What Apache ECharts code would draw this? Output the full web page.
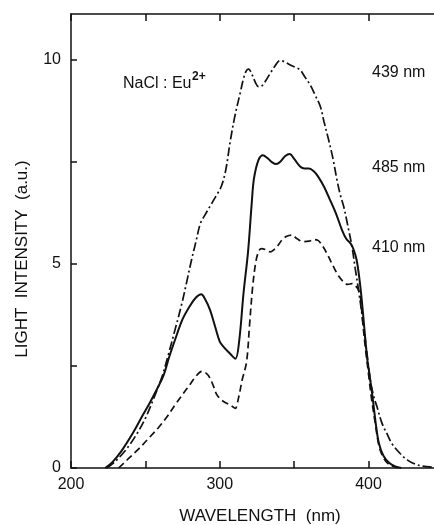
<!DOCTYPE html>
<html>
<head>
<meta charset="utf-8">
<script src="https://cdn.jsdelivr.net/npm/echarts@6/dist/echarts.min.js"></script>
<style>
html,body{margin:0;padding:0;background:#fff;}
#c{width:434px;height:525px;}
</style>
</head>
<body>
<div id="c"></div>
<script>
// Tick values
const xTicks = [200, 250, 300, 350, 400];
const xLabels = [200, 300, 400];
const yTicks = [0, 2.5, 5, 7.5, 10];
const yLabels = [0, 5, 10];

// Emission at 485 nm (solid)
const s485 = [[223,0],[228,0.15],[234,0.42],[242,0.88],[248,1.28],[253,1.6],[258,1.95],[262,2.25],[266,2.72],[270,3.15],[275,3.65],[280,3.98],[284,4.18],[287.5,4.26],[290,4.15],[293.5,3.87],[297,3.45],[300,3.1],[303,2.95],[307,2.8],[310.5,2.68],[313,3.1],[316,4.3],[319,5.3],[321.5,6.5],[323,7.1],[326,7.55],[329,7.67],[332,7.6],[335,7.5],[338,7.45],[341,7.52],[344,7.65],[347,7.7],[350,7.58],[354,7.39],[357,7.34],[360,7.34],[363,7.28],[366,7.15],[370,6.9],[374,6.58],[378,6.25],[382,5.85],[385,5.62],[388,5.5],[390,5.35],[392,5.1],[394,4.6],[395.5,4.1],[397,3.5],[399,2.72],[401,2.2],[403,1.65],[405,1.05],[407,0.6],[410,0.3],[414,0.12],[418,0.04],[422,0]];

// Emission at 439 nm (dash-dot)
const s439 = [[224,0],[230,0.17],[237,0.45],[244,0.82],[250,1.22],[255.5,1.7],[261,2.22],[265,2.72],[270,3.4],[274.5,4.03],[278,4.6],[281,5.1],[284,5.55],[287,6.0],[290,6.2],[294,6.45],[298,6.7],[301,6.9],[304,7.3],[307,8.0],[310,8.6],[313.7,9.19],[316,9.55],[318,9.75],[319.5,9.78],[321,9.7],[324,9.45],[326,9.35],[328.3,9.37],[331,9.5],[334,9.68],[337,9.85],[340.6,9.99],[344,9.95],[347.4,9.88],[351,9.82],[354,9.76],[357,9.6],[360.8,9.39],[364,9.15],[367.6,8.86],[370,8.5],[373.2,8.04],[376,7.6],[378.8,7.06],[381,6.7],[383.3,6.41],[386,5.95],[388.9,5.42],[391,4.9],[393.3,4.36],[396.7,3.46],[399,2.8],[401.2,2.15],[403.5,1.75],[405.7,1.5],[409,1.1],[412.4,0.84],[416,0.58],[421.4,0.35],[426,0.2],[430.4,0.11],[436,0.05],[444,0.02]];

// Emission at 410 nm (dashed)
const s410 = [[232,0],[237.5,0.19],[245,0.45],[253,0.76],[259,1.0],[264.4,1.25],[270,1.55],[275.6,1.83],[280,2.05],[284,2.25],[288,2.37],[291,2.32],[293.5,2.2],[295.8,2.0],[298,1.8],[301.4,1.66],[305,1.58],[308,1.52],[310.4,1.46],[312.5,1.7],[315,2.15],[318,2.6],[320,3.5],[322,4.4],[324,5.0],[326,5.3],[328,5.38],[331,5.35],[334,5.3],[336,5.34],[339,5.45],[342,5.6],[345,5.68],[348.5,5.71],[352,5.62],[356,5.55],[360,5.56],[363,5.6],[366,5.58],[369,5.45],[372,5.26],[376.5,4.93],[380,4.7],[383.3,4.56],[386,4.5],[389,4.52],[391,4.47],[393,4.38],[394.5,4.2],[396,3.6],[398,2.9],[400,2.3],[402,1.7],[404.5,1.1],[407,0.55],[410,0.25],[414,0.08],[420,0]];

const FONT = '"Liberation Sans", Arial, sans-serif';
const INK = '#111';

const chart = echarts.init(document.getElementById('c'), null, {renderer: 'canvas'});
const baseLine = {show: true, lineStyle: {color: INK, width: 1.5}};
chart.setOption({
  animation: false,
  backgroundColor: '#fff',
  grid: {left: 71, top: 14, right: 0, bottom: 57, containLabel: false},
  xAxis: [{
    type: 'value', min: 200, max: 444, position: 'bottom',
    axisLine: baseLine,
    axisTick: {show: true, inside: true, length: 7, customValues: xTicks, lineStyle: {color: INK, width: 1.5}},
    axisLabel: {show: true, customValues: xLabels, margin: 9, fontSize: 16, color: INK, fontFamily: FONT},
    splitLine: {show: false}
  }, {
    type: 'value', min: 200, max: 444, position: 'top',
    axisLine: baseLine,
    axisTick: {show: true, inside: true, length: 7, customValues: xTicks, lineStyle: {color: INK, width: 1.5}},
    axisLabel: {show: false},
    splitLine: {show: false}
  }],
  yAxis: {
    type: 'value', min: 0, max: 11.13,
    axisLine: baseLine,
    axisTick: {show: true, inside: true, length: 6, customValues: yTicks, lineStyle: {color: INK, width: 1.5}},
    axisLabel: {show: true, customValues: yLabels, margin: 10, fontSize: 16, color: INK, fontFamily: FONT},
    splitLine: {show: false}
  },
  series: [{
    name: '485 nm', type: 'line', data: s485, showSymbol: false, smooth: 0.35,
    lineStyle: {color: INK, width: 2, type: 'solid'}
  }, {
    name: '439 nm', type: 'line', data: s439, showSymbol: false, smooth: 0.35,
    lineStyle: {color: INK, width: 1.7, type: [9, 3, 2, 3]}
  }, {
    name: '410 nm', type: 'line', data: s410, showSymbol: false, smooth: 0.35,
    lineStyle: {color: INK, width: 1.7, type: [7, 4]}
  }],
  graphic: [
    {type: 'text', x: 372, y: 72.5, style: {text: '439 nm', font: '16px ' + FONT, fill: INK, textVerticalAlign: 'middle'}},
    {type: 'text', x: 372, y: 167.5, style: {text: '485 nm', font: '16px ' + FONT, fill: INK, textVerticalAlign: 'middle'}},
    {type: 'text', x: 372, y: 248, style: {text: '410 nm', font: '16px ' + FONT, fill: INK, textVerticalAlign: 'middle'}},
    {type: 'text', x: 123, y: 84, style: {text: 'NaCl : Eu', font: '16px ' + FONT, fill: INK, textVerticalAlign: 'middle'}},
    {type: 'text', x: 192, y: 77, style: {text: '2+', font: 'bold 12px ' + FONT, fill: INK, textVerticalAlign: 'middle'}},
    {type: 'text', x: 260, y: 516, style: {text: 'WAVELENGTH  (nm)', font: '17px ' + FONT, fill: INK, textAlign: 'center', textVerticalAlign: 'middle'}},
    {type: 'text', x: 22, y: 259, rotation: Math.PI / 2, style: {text: 'LIGHT  INTENSITY  (a.u.)', font: '17px ' + FONT, fill: INK, textAlign: 'center', textVerticalAlign: 'middle'}}
  ]
});
</script>
</body>
</html>
